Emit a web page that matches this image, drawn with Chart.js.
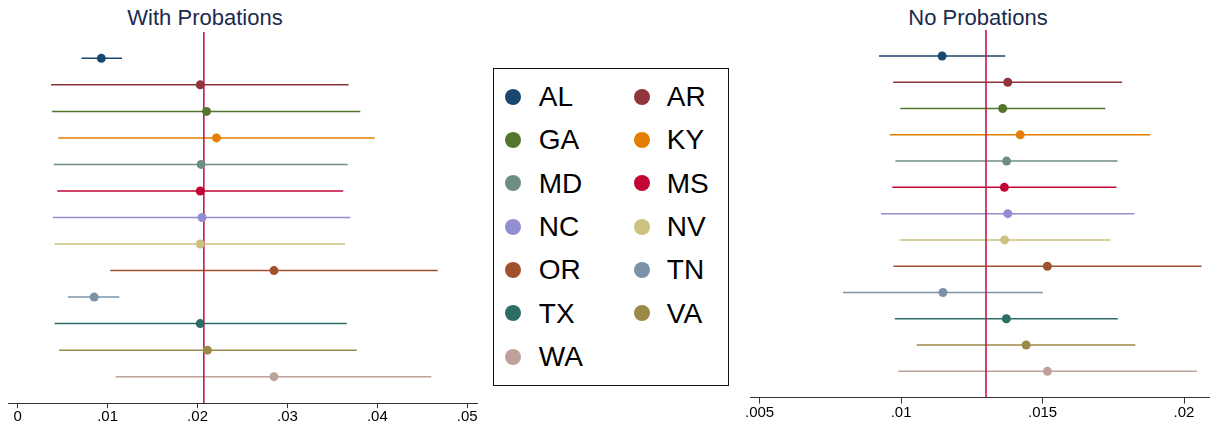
<!DOCTYPE html>
<html><head><meta charset="utf-8">
<script src="https://cdn.jsdelivr.net/npm/chart.js@4"></script>
<style>
html,body{margin:0;padding:0;background:#fff;width:1214px;height:430px;overflow:hidden;font-family:"Liberation Sans",Arial,sans-serif;}
#left{position:absolute;left:0;top:0;}
#right{position:absolute;left:740px;top:0;}
.title{position:absolute;top:7px;font-size:22px;line-height:22px;color:#1c2a4f;white-space:nowrap;transform:translateX(-50%);}
#legend{position:absolute;left:493px;top:68px;width:236px;height:318px;border:1.5px solid #111;box-sizing:border-box;}
.dot{position:absolute;width:16px;height:16px;border-radius:50%;}
.lab{position:absolute;font-size:28px;line-height:28px;color:#000;white-space:nowrap;}
</style>
</head><body>
<div class="title" style="left:205px">With Probations</div>
<div class="title" style="left:978px">No Probations</div>
<canvas id="left" width="490" height="430"></canvas>
<canvas id="right" width="474" height="430"></canvas>
<div id="legend"></div>
<script>
const states = ['AL','AR','GA','KY','MD','MS','NC','NV','OR','TN','TX','VA','WA'];
const colors = ['#1a476f','#90353b','#55752f','#e37e00','#6e8e84','#c10534','#938dd2','#cac27e','#a0522d','#7b92a8','#2d6d66','#9c8847','#bfa19c'];

const withEst = [0.0093,0.0203,0.0210,0.0221,0.0204,0.0203,0.0205,0.0203,0.0285,0.0085,0.0203,0.0211,0.0285];
const withLo  = [0.0071,0.0037,0.0038,0.0045,0.0040,0.0044,0.0039,0.0041,0.0103,0.0056,0.0041,0.0046,0.0109];
const withHi  = [0.0116,0.0368,0.0381,0.0397,0.0367,0.0362,0.0370,0.0364,0.0467,0.0113,0.0366,0.0377,0.0460];
const withRef = 0.0207;

const noEst = [0.01145,0.01377,0.01359,0.01421,0.01373,0.01365,0.01377,0.01366,0.01517,0.01148,0.01372,0.01442,0.01517];
const noLo  = [0.00922,0.00972,0.00997,0.00960,0.00980,0.00969,0.00929,0.00994,0.00973,0.00795,0.00978,0.01055,0.00990];
const noHi  = [0.01368,0.01781,0.01722,0.01881,0.01765,0.01761,0.01825,0.01740,0.02062,0.01501,0.01766,0.01828,0.02045];
const noRef = 0.013;

const withTicks = [0,0.01,0.02,0.03,0.04,0.05];
const withTickLabels = ['0','.01','.02','.03','.04','.05'];
const noTicks = [0.005,0.01,0.015,0.02];
const noTickLabels = ['.005','.01','.015','.02'];

const refColor = '#c8174a';
const FONT = '"Liberation Sans", Arial, sans-serif';

function makeChart(id, est, lo, hi, ref, ticks, labels, xmin, xmax, padding, tickLength) {
  const ds = [];
  states.forEach((s, i) => {
    ds.push({label: s, data: [{x: est[i], y: i + 1}], backgroundColor: colors[i], borderWidth: 0,
      pointRadius: 4.5, pointHoverRadius: 4.5, showLine: false, order: 0});
  });
  ds.push({label: 'ref', data: [{x: ref, y: 0}, {x: ref, y: 14}], borderColor: refColor, borderWidth: 1.6,
    pointRadius: 0, showLine: true, order: 1});
  states.forEach((s, i) => {
    ds.push({label: s + ' CI', data: [{x: lo[i], y: i + 1}, {x: hi[i], y: i + 1}], borderColor: colors[i],
      borderWidth: 1.5, pointRadius: 0, showLine: true, order: 2});
  });
  return new Chart(document.getElementById(id), {
    type: 'scatter',
    data: {datasets: ds},
    options: {
      responsive: false, animation: false, devicePixelRatio: 1,
      layout: {padding: padding},
      plugins: {legend: {display: false}, tooltip: {enabled: false}, title: {display: false}},
      scales: {
        x: {
          type: 'linear', min: xmin, max: xmax,
          afterBuildTicks: (scale) => { scale.ticks = ticks.map(v => ({value: v})); },
          ticks: {callback: (v, i) => labels[i], font: {size: 15, family: FONT}, color: '#000',
            padding: 0, maxRotation: 0, autoSkip: false, includeBounds: false},
          grid: {drawOnChartArea: false, drawTicks: true, tickLength: tickLength, color: '#333', lineWidth: 1},
          border: {display: true, color: '#333', width: 1}
        },
        y: {type: 'linear', min: 0, max: 14, reverse: true, display: false}
      }
    }
  });
}

makeChart('left', withEst, withLo, withHi, withRef, withTicks, withTickLabels, -0.00108, 0.05108,
  {left: 8, right: 13, top: 31.8, bottom: 3.8}, 5);
makeChart('right', noEst, noLo, noHi, noRef, noTicks, noTickLabels, 0.00466, 0.0209,
  {left: 10, right: 1, top: 29.7, bottom: 8.4}, 6);

// legend
const leg = document.getElementById('legend');
states.forEach((s, i) => {
  const col = i % 2, row = Math.floor(i / 2);
  const cy = 29.3 + row * 43.3;
  const dx = col === 0 ? 20.3 : 149;
  const tx = col === 0 ? 46.3 : 174.3;
  const d = document.createElement('div');
  d.className = 'dot';
  d.style.background = colors[i];
  d.style.left = (dx - 8 - 1.5) + 'px';
  d.style.top = (cy - 8 - 1.5) + 'px';
  leg.appendChild(d);
  const t = document.createElement('div');
  t.className = 'lab';
  t.textContent = s;
  t.style.left = (tx - 1.5) + 'px';
  t.style.top = (cy - 13.7 - 1.5) + 'px';
  leg.appendChild(t);
});
</script>
</body></html>
